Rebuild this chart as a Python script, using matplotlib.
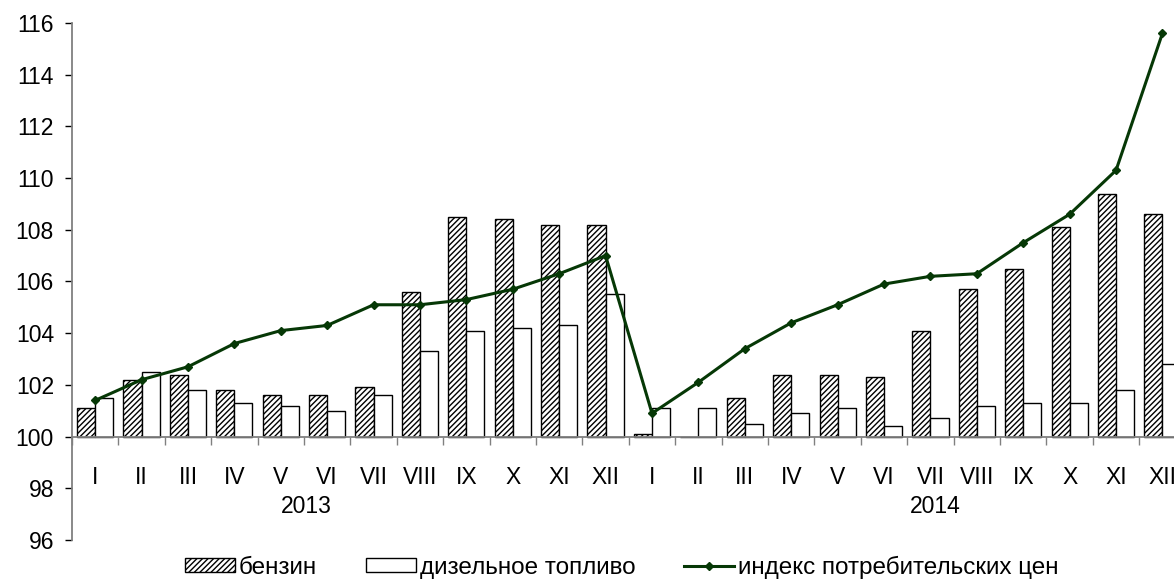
import numpy as np
import matplotlib.pyplot as plt
from matplotlib.patches import Patch
from matplotlib.lines import Line2D

plt.rcParams['font.family'] = ['Liberation Sans', 'DejaVu Sans']
plt.rcParams['hatch.linewidth'] = 1.0
plt.rcParams['hatch.color'] = '#333333'

# month labels (two years)
months = ['I', 'II', 'III', 'IV', 'V', 'VI', 'VII', 'VIII', 'IX', 'X', 'XI', 'XII'] * 2

# index values, previous December = 100
benzin = [101.1, 102.2, 102.4, 101.8, 101.6, 101.6, 101.9, 105.6, 108.5, 108.4, 108.2, 108.2,
          100.1, 100.0, 101.5, 102.4, 102.4, 102.3, 104.1, 105.7, 106.5, 108.1, 109.4, 108.6]
diesel = [101.5, 102.5, 101.8, 101.3, 101.2, 101.0, 101.6, 103.3, 104.1, 104.2, 104.3, 105.5,
          101.1, 101.1, 100.5, 100.9, 101.1, 100.4, 100.7, 101.2, 101.3, 101.3, 101.8, 102.8]
cpi = [101.4, 102.2, 102.7, 103.6, 104.1, 104.3, 105.1, 105.1, 105.3, 105.7, 106.3, 107.0,
       100.9, 102.1, 103.4, 104.4, 105.1, 105.9, 106.2, 106.3, 107.5, 108.6, 110.3, 115.6]

base = 100
x = np.arange(len(months))
w = 0.39
fs = 16.5
green = '#063806'

fig = plt.figure(figsize=(11.74, 5.81), dpi=100)
ax = fig.add_axes([0.0613, 0.0706, 0.9486, 0.8898])

ax.bar(x - w / 2, np.array(benzin) - base, w, bottom=base, color='white',
       edgecolor='black', hatch='//////', linewidth=1.0, zorder=2)
ax.bar(x + w / 2, np.array(diesel) - base, w, bottom=base, color='white',
       edgecolor='black', linewidth=1.0, zorder=2)
ax.plot(x, cpi, color=green, lw=2.2, marker='D', markersize=4, zorder=3)

ax.set_xlim(-0.5, 23.5)
ax.set_ylim(96, 116)
ax.set_yticks(range(96, 117, 2))
ax.tick_params(axis='y', labelsize=fs, length=5, width=1, color='black', pad=8)

for s in ['top', 'right']:
    ax.spines[s].set_visible(False)
ax.spines['left'].set_color('#808080')
ax.spines['left'].set_linewidth(1.3)
ax.spines['bottom'].set_position(('data', base))
ax.spines['bottom'].set_color('#808080')
ax.spines['bottom'].set_linewidth(1.3)

ax.set_xticks(x)
ax.set_xticklabels(months)
ax.set_xticks(np.arange(-0.5, 24, 1), minor=True)
ax.tick_params(axis='x', which='major', length=0, labelsize=fs, pad=21)
ax.tick_params(axis='x', which='minor', length=6, width=1, color='#808080')

ax.text(4.55, 97.3, '2013', fontsize=fs, ha='center', va='center')
ax.text(18.1, 97.3, '2014', fontsize=fs, ha='center', va='center')

handles = [Patch(facecolor='white', edgecolor='black', hatch='//////', label='бензин'),
           Patch(facecolor='white', edgecolor='black', label='дизельное топливо'),
           Line2D([0], [0], color=green, lw=2.2, marker='D', markersize=4,
                  label='индекс потребительских цен')]
fig.legend(handles=handles, loc='center left', bbox_to_anchor=(0.1576, 0.024), ncol=3,
           frameon=False, fontsize=17.5, handlelength=2.06, handleheight=0.45,
           handletextpad=0.16, columnspacing=2.0, borderpad=0, borderaxespad=0)

fig.savefig('out.png', dpi=100)
